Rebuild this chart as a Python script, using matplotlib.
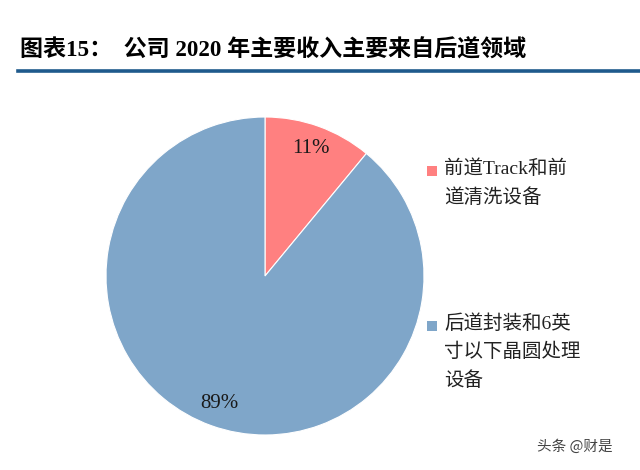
import matplotlib
matplotlib.use("Agg")
import matplotlib.pyplot as plt
from matplotlib.patches import Rectangle
from matplotlib.lines import Line2D

plt.rcParams['font.family'] = ['Liberation Serif', 'Noto Sans CJK SC', 'DejaVu Sans']

labels = ["前道Track和前\n道清洗设备", "后道封装和6英\n寸以下晶圆处理\n设备"]
values = [11, 89]
colors = ["#FF8080", "#7FA6C9"]
title = "图表15：  公司 2020 年主要收入主要来自后道领域"
watermark = "头条 @财是"

W, H = 640, 470
fig = plt.figure(figsize=(W / 100, H / 100), dpi=100)

# Title and rule
fig.text(20 / W, 1 - 50 / H, title, fontsize=16.6, fontweight='bold',
         family=['Liberation Serif', 'Noto Sans CJK SC'], va='center', ha='left', color='#000000')
fig.add_artist(Line2D([18 / W, 1.0], [1 - 71 / H, 1 - 71 / H], color='#1F5A8C', lw=2.6,
                      transform=fig.transFigure))

# Pie
cx, cy, r = 265, 276, 159
ax = fig.add_axes([(cx - r) / W, (H - cy - r) / H, 2 * r / W, 2 * r / H])
wedges, texts, autotexts = ax.pie(values, colors=colors, startangle=90, counterclock=False,
                                  autopct='%d%%', pctdistance=0.85,
                                  wedgeprops=dict(edgecolor='white', linewidth=0.8),
                                  textprops=dict(fontsize=15, color='#1a1a1a'))
ax.set_xlim(-1.0, 1.0)
ax.set_ylim(-1.0, 1.0)
ax.set_aspect('equal')
ax.axis('off')

# Legend (manual placement)
legend_pos = [171, 326]
for lab, col, y in zip(labels, colors, legend_pos):
    s = 10
    fig.add_artist(Rectangle((427 / W, 1 - (y + s / 2) / H), s / W, s / H,
                             transform=fig.transFigure, facecolor=col, edgecolor='none'))
    fig.text(444 / W, 1 - (y - 12) / H, lab, fontsize=14, va='top', ha='left',
             color='#222222', linespacing=1.7)

fig.text(575 / W, 1 - 447 / H, watermark, fontsize=10.5, color='#444444', ha='center', va='center',
         family=['Noto Sans CJK SC', 'DejaVu Sans'])

fig.savefig("out.png", dpi=100)
